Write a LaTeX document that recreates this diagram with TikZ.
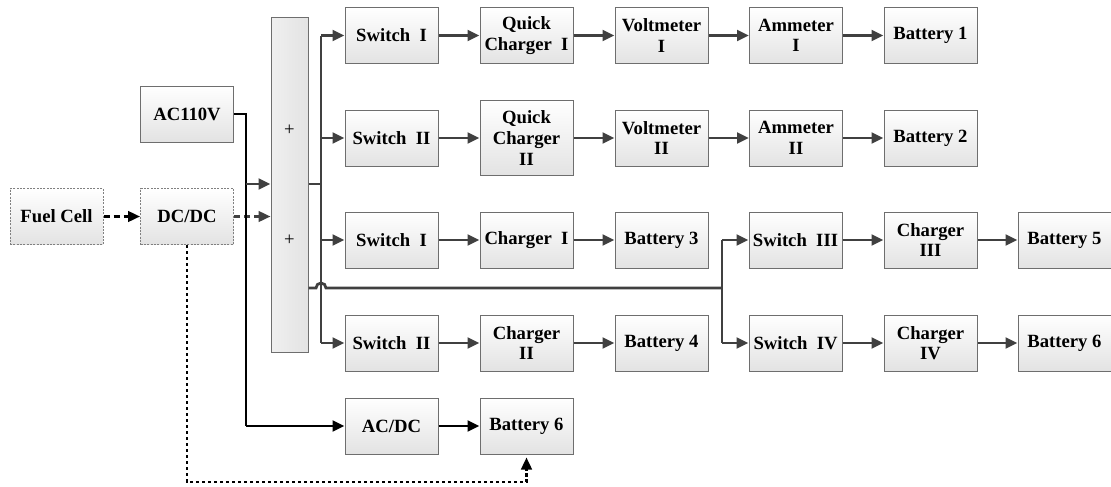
\documentclass[tikz,border=0pt]{standalone}
\usepackage{fontspec}
\setmainfont{Liberation Serif}
\usetikzlibrary{arrows.meta, positioning, calc}
\definecolor{wiregray}{RGB}{64, 64, 64}
\definecolor{edgegray}{RGB}{110, 110, 110}

\begin{document}
\begin{tikzpicture}[
  x={(0.75pt,0)}, y={(0,-0.75pt)},
  blk/.style={draw=edgegray, line width=0.75pt, top color=white, bottom color=gray!22, minimum width=69.75pt, minimum height=42pt, align=center, inner sep=1pt, font=\fontsize{14}{15.5}\selectfont\bfseries},
  dblk/.style={blk, dashed, dash pattern=on 1.5pt off 1pt, draw=gray},
  tallblk/.style={blk, minimum height=56pt},
  bar/.style={draw=edgegray, line width=0.75pt, left color=gray!12, right color=gray!22, minimum width=27.75pt, minimum height=251.25pt, inner sep=0pt},
  wire/.style={draw=wiregray, line width=2.1pt, -{Triangle[length=9pt, width=8pt]}},
  blackwire/.style={draw=black, line width=2.1pt, -{Triangle[length=9pt, width=8pt]}},
  dashwire/.style={draw=black, line width=1.8pt, dash pattern=on 4.5pt off 3pt, -{Triangle[length=9pt, width=8pt]}}
]
  \useasboundingbox (0,0) rectangle (1111,486);

  % sources
  \node[dblk] (fuel) at (56.5,216.5) {Fuel Cell};
  \node[dblk] (dcdc) at (187,216.5) {DC/DC};
  \node[blk] (ac) at (187,114) {AC110V};

  % combiner bar
  \node[bar] (bus) at (289.5,184.5) {};
  \node[font=\fontsize{14}{15}\selectfont] (plusA) at (289.5,130) {+};
  \node[font=\fontsize{14}{15}\selectfont] (plusB) at (289.5,240) {+};

  % row 1
  \node[blk] (sw1) at (391.5,35.5) {Switch\ \ I};
  \node[blk] (qc1) at (526.5,35.5) {Quick\\Charger\ \ I};
  \node[blk] (vm1) at (661.5,35.5) {Voltmeter\\I};
  \node[blk] (am1) at (796,35.5) {Ammeter\\I};
  \node[blk] (bat1) at (930.5,35.5) {Battery 1};

  % row 2
  \node[blk] (sw2) at (391.5,138) {Switch\ \ II};
  \node[tallblk] (qc2) at (526.5,138) {Quick\\Charger\\II};
  \node[blk] (vm2) at (661.5,138) {Voltmeter\\II};
  \node[blk] (am2) at (796,138) {Ammeter\\II};
  \node[blk] (bat2) at (930.5,138) {Battery 2};

  % row 3
  \node[blk] (sw3) at (391.5,240) {Switch\ \ I};
  \node[blk] (ch1) at (526.5,240) {Charger\ \ I};
  \node[blk] (bat3) at (661.5,240) {Battery 3};
  \node[blk] (sw5) at (795.5,240) {Switch\ \ III};
  \node[blk] (ch3) at (930.5,240) {Charger\\III};
  \node[blk] (bat5) at (1064.5,240) {Battery 5};

  % row 4
  \node[blk] (sw4) at (391.5,343) {Switch\ \ II};
  \node[blk] (ch2) at (526.5,343) {Charger\\II};
  \node[blk] (bat4) at (661.5,343) {Battery 4};
  \node[blk] (sw6) at (795.5,343) {Switch\ \ IV};
  \node[blk] (ch4) at (930.5,343) {Charger\\IV};
  \node[blk] (bat6) at (1064.5,343) {Battery 6};

  % row 5
  \node[blk] (acdc) at (391.5,426) {AC/DC};
  \node[blk] (batB) at (526.5,426) {Battery 6};

  \coordinate (acbend) at (246,114);
  \coordinate (split) at (722,288);
  \coordinate (dcturn) at (187,482);

  % inputs
  \draw[dashwire] (fuel) -- (dcdc);
  \draw[dashwire, draw=wiregray] (dcdc.east) -- (dcdc.east -| bus.west);
  \draw[blackwire, -] (ac.east) -- (acbend) -- (acbend |- acdc);
  \draw[blackwire] (acbend |- acdc) -- (acdc.west);
  \draw[wire] (acbend |- 0,184) -- (bus.west |- 0,184);
  \draw[dashwire, dash pattern=on 2.5pt off 2pt] (dcdc.south) -- (dcturn) -- (dcturn -| batB) -- ($(batB.south)+(0,3)$);

  % outputs of the bar
  \draw[wire, -] (bus.east |- 0,184) -- (321,184);
  \draw[wire, -] (321,35.5) -- (321,343);
  \foreach \s in {sw1, sw2, sw3, sw4}
    \draw[wire] (321,0 |- \s) -- (\s.west);
  \draw[wire, -] (bus.east |- split) -- (316,288) arc[start angle=180, end angle=0, radius=3.75pt] -- (split);
  \draw[wire, -] (split |- sw5) -- (split |- sw6);
  \draw[wire] (split |- sw5) -- (sw5.west);
  \draw[wire] (split |- sw6) -- (sw6.west);

  % chains
  \draw[wire] (sw1) -- (qc1);
  \draw[wire] (qc1) -- (vm1);
  \draw[wire] (vm1) -- (am1);
  \draw[wire] (am1) -- (bat1);
  \draw[wire] (sw2) -- (qc2);
  \draw[wire] (qc2) -- (vm2);
  \draw[wire] (vm2) -- (am2);
  \draw[wire] (am2) -- (bat2);
  \draw[wire] (sw3) -- (ch1);
  \draw[wire] (ch1) -- (bat3);
  \draw[wire] (sw4) -- (ch2);
  \draw[wire] (ch2) -- (bat4);
  \draw[wire] (sw5) -- (ch3);
  \draw[wire] (ch3) -- (bat5);
  \draw[wire] (sw6) -- (ch4);
  \draw[wire] (ch4) -- (bat6);
  \draw[blackwire] (acdc) -- (batB);
\end{tikzpicture}
\end{document}
